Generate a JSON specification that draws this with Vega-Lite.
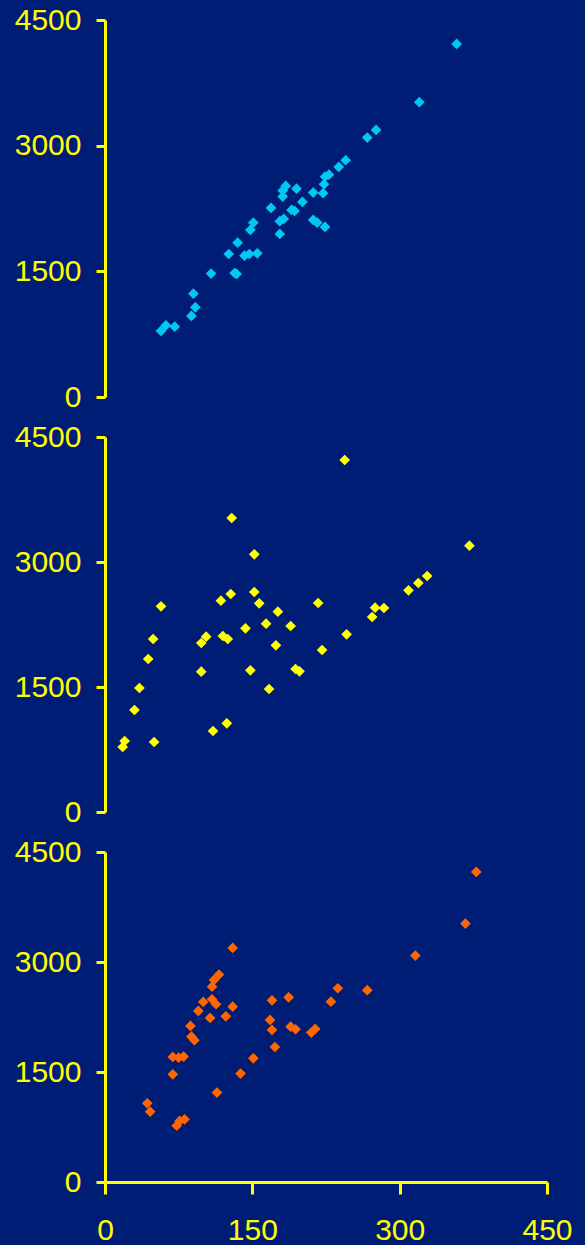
{
  "$schema": "https://vega.github.io/schema/vega-lite/v6.json",
  "background": "#001d76",
  "padding": {"left": 14, "top": 5, "right": 12, "bottom": 0},
  "bounds": "flush",
  "spacing": 40,
  "config": {
    "view": {"stroke": null},
    "font": "Liberation Sans",
    "axis": {
      "domainColor": "#ffff00", "domainWidth": 3,
      "tickColor": "#ffff00", "tickWidth": 3,
      "labelColor": "#ffff00", "labelFont": "Liberation Sans", "labelFontSize": 30,
      "labelFlush": false, "labelOverlap": false, "format": "d",
      "grid": false
    }
  },
  "datasets": {
    "top": [
      {"x": 358, "y": 4215}, {"x": 320, "y": 3519}, {"x": 276, "y": 3188}, {"x": 267, "y": 3096},
      {"x": 245, "y": 2826}, {"x": 238, "y": 2746}, {"x": 228, "y": 2654}, {"x": 224, "y": 2630},
      {"x": 223, "y": 2540}, {"x": 222, "y": 2432}, {"x": 212, "y": 2440}, {"x": 201, "y": 2328},
      {"x": 195, "y": 2487}, {"x": 184, "y": 2519}, {"x": 181, "y": 2464}, {"x": 181, "y": 2392},
      {"x": 193, "y": 2221}, {"x": 190, "y": 2233}, {"x": 169, "y": 2257}, {"x": 182, "y": 2125},
      {"x": 178, "y": 2098}, {"x": 212, "y": 2113}, {"x": 216, "y": 2081}, {"x": 224, "y": 2030},
      {"x": 178, "y": 1946}, {"x": 151, "y": 2081}, {"x": 148, "y": 1994}, {"x": 135, "y": 1842},
      {"x": 126, "y": 1707}, {"x": 142, "y": 1687}, {"x": 147, "y": 1707}, {"x": 155, "y": 1715},
      {"x": 134, "y": 1469}, {"x": 132, "y": 1480}, {"x": 108, "y": 1473}, {"x": 90, "y": 1233},
      {"x": 92, "y": 1071}, {"x": 88, "y": 967}, {"x": 71, "y": 839}, {"x": 62, "y": 856},
      {"x": 57, "y": 788}
    ],
    "middle": [
      {"x": 244, "y": 4224}, {"x": 129, "y": 3528}, {"x": 371, "y": 3196}, {"x": 152, "y": 3092},
      {"x": 328, "y": 2832}, {"x": 319, "y": 2748}, {"x": 309, "y": 2660}, {"x": 152, "y": 2640},
      {"x": 128, "y": 2616}, {"x": 118, "y": 2536}, {"x": 157, "y": 2504}, {"x": 217, "y": 2508},
      {"x": 57, "y": 2468}, {"x": 176, "y": 2404}, {"x": 275, "y": 2452}, {"x": 284, "y": 2448},
      {"x": 272, "y": 2340}, {"x": 164, "y": 2260}, {"x": 189, "y": 2232}, {"x": 143, "y": 2204},
      {"x": 103, "y": 2104}, {"x": 98, "y": 2028}, {"x": 120, "y": 2112}, {"x": 125, "y": 2076},
      {"x": 246, "y": 2132}, {"x": 49, "y": 2076}, {"x": 174, "y": 2000}, {"x": 221, "y": 1944},
      {"x": 44, "y": 1836}, {"x": 98, "y": 1684}, {"x": 148, "y": 1700}, {"x": 194, "y": 1716},
      {"x": 198, "y": 1688}, {"x": 35, "y": 1488}, {"x": 167, "y": 1476}, {"x": 30, "y": 1224},
      {"x": 124, "y": 1064}, {"x": 110, "y": 972}, {"x": 20, "y": 852}, {"x": 18, "y": 780},
      {"x": 50, "y": 840}
    ],
    "bottom": [
      {"x": 378, "y": 4228}, {"x": 367, "y": 3524}, {"x": 316, "y": 3087}, {"x": 130, "y": 3192},
      {"x": 116, "y": 2828}, {"x": 111, "y": 2755}, {"x": 109, "y": 2664}, {"x": 237, "y": 2642},
      {"x": 267, "y": 2615}, {"x": 170, "y": 2478}, {"x": 187, "y": 2519}, {"x": 230, "y": 2459},
      {"x": 100, "y": 2455}, {"x": 109, "y": 2492}, {"x": 113, "y": 2424}, {"x": 130, "y": 2391},
      {"x": 95, "y": 2332}, {"x": 107, "y": 2237}, {"x": 123, "y": 2260}, {"x": 168, "y": 2210},
      {"x": 170, "y": 2073}, {"x": 189, "y": 2118}, {"x": 194, "y": 2083}, {"x": 210, "y": 2037},
      {"x": 214, "y": 2087}, {"x": 87, "y": 2128}, {"x": 88, "y": 1982}, {"x": 91, "y": 1933},
      {"x": 173, "y": 1841}, {"x": 69, "y": 1705}, {"x": 75, "y": 1696}, {"x": 80, "y": 1710},
      {"x": 151, "y": 1687}, {"x": 69, "y": 1469}, {"x": 138, "y": 1478}, {"x": 114, "y": 1219},
      {"x": 43, "y": 1074}, {"x": 46, "y": 959}, {"x": 81, "y": 855}, {"x": 76, "y": 832},
      {"x": 73, "y": 768}
    ]
  },
  "vconcat": [
    {
      "width": 442, "height": 377,
      "data": {"name": "top"},
      "mark": {"type": "point", "shape": "diamond", "filled": true, "size": 115, "color": "#00c8f5", "opacity": 1},
      "encoding": {
        "x": {"field": "x", "type": "quantitative", "scale": {"domain": [0, 450], "nice": false}, "axis": null},
        "y": {"field": "y", "type": "quantitative", "scale": {"domain": [0, 4500], "nice": false},
              "axis": {"values": [0, 1500, 3000, 4500], "tickSize": 9, "labelPadding": 15, "title": null}}
      }
    },
    {
      "width": 442, "height": 375,
      "data": {"name": "middle"},
      "mark": {"type": "point", "shape": "diamond", "filled": true, "size": 115, "color": "#ffff00", "opacity": 1},
      "encoding": {
        "x": {"field": "x", "type": "quantitative", "scale": {"domain": [0, 450], "nice": false}, "axis": null},
        "y": {"field": "y", "type": "quantitative", "scale": {"domain": [0, 4500], "nice": false},
              "axis": {"values": [0, 1500, 3000, 4500], "tickSize": 9, "labelPadding": 15, "title": null}}
      }
    },
    {
      "width": 442, "height": 330,
      "data": {"name": "bottom"},
      "mark": {"type": "point", "shape": "diamond", "filled": true, "size": 115, "color": "#ff6600", "opacity": 1},
      "encoding": {
        "x": {"field": "x", "type": "quantitative", "scale": {"domain": [0, 450], "nice": false},
              "axis": {"values": [0, 150, 300, 450], "tickSize": 12, "labelPadding": 21, "title": null}},
        "y": {"field": "y", "type": "quantitative", "scale": {"domain": [0, 4500], "nice": false},
              "axis": {"values": [0, 1500, 3000, 4500], "tickSize": 9, "labelPadding": 15, "title": null}}
      }
    }
  ]
}
